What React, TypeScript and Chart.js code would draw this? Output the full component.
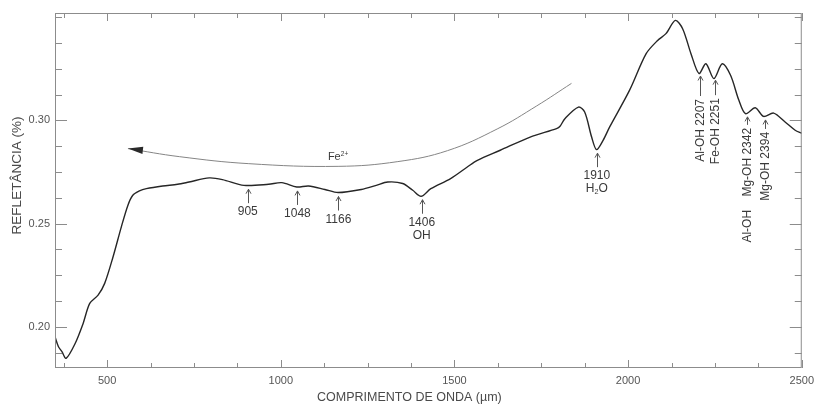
import React, { useEffect, useRef } from "react";
import { Chart, registerables } from "chart.js";

Chart.register(...registerables);

// ---- Data -----------------------------------------------------------------
const WAVELENGTH = [
  350, 360, 370, 382, 408, 431, 450, 474, 493, 517, 541, 560, 574, 593, 613, 660,
  703, 736, 794, 832, 894, 965, 1003, 1046, 1080, 1127, 1165, 1232, 1275, 1308,
  1351, 1380, 1404, 1432, 1489, 1537, 1566, 1632, 1718, 1794, 1804, 1818, 1857,
  1875, 1895, 1909, 1928, 1947, 2004, 2052, 2085, 2109, 2136, 2157, 2181, 2204,
  2224, 2247, 2271, 2295, 2319, 2338, 2366, 2390, 2419, 2452, 2481, 2500,
];
const REFLECTANCE = [
  0.1951, 0.1903, 0.1879, 0.1847, 0.1919, 0.2016, 0.2113, 0.2153, 0.221, 0.2338,
  0.2484, 0.2589, 0.2637, 0.2658, 0.2669, 0.2682, 0.269, 0.2701, 0.2721, 0.2713,
  0.2685, 0.269, 0.2698, 0.2677, 0.2682, 0.2665, 0.265, 0.2665, 0.2685, 0.2701,
  0.2694, 0.2661, 0.2632, 0.2669, 0.2718, 0.2774, 0.2806, 0.2855, 0.2919, 0.296,
  0.2971, 0.3008, 0.3064, 0.304, 0.2919, 0.2858, 0.2903, 0.2968, 0.3145, 0.3323,
  0.3387, 0.342, 0.3484, 0.3444, 0.3323, 0.3227, 0.3274, 0.3202, 0.3274, 0.3218,
  0.3097, 0.3032, 0.3061, 0.3019, 0.3035, 0.2992, 0.2952, 0.2937,
];

// Fe2+ trend arc (arrow tip is the first point)
const FE_ARC_WAVELENGTH = [560, 708, 908, 1165, 1337, 1480, 1623, 1737, 1837];
const FE_ARC_REFLECTANCE = [0.2863, 0.2824, 0.2790, 0.2777, 0.2800, 0.2853, 0.2958, 0.3070, 0.3179];
const FE_LABEL = "Fe²⁺";
const FE_LABEL_WAVELENGTH = 1165;

const X_MIN = 350;
const X_MAX = 2500;
const Y_MIN = 0.18;
const Y_MAX = 0.352;
const X_TICKS = [500, 1000, 1500, 2000, 2500];
const Y_TICKS = [0.2, 0.25, 0.3];
const X_MINOR_STEP = 125;
const Y_MINOR_STEP = 0.0125;

const BAND_WAVELENGTHS = [905, 1048, 1166, 1406, 1910];
const BAND_LABELS = [["905"], ["1048"], ["1166"], ["1406", "OH"], ["1910", "H₂O"]];

const ROT_WAVELENGTHS = [2207, 2251, 2342, 2394];
const ROT_LABELS = ["Al-OH 2207", "Fe-OH 2251", "Al-OH    Mg-OH 2342", "Mg-OH 2394"];
const ROT_STEMS = [20, 15, 8, 9];

const X_TITLE = "COMPRIMENTO DE ONDA (µm)";
const Y_TITLE = "REFLETÂNCIA (%)";

// ---- Helpers --------------------------------------------------------------
const FONT = '"Liberation Sans", Arial, Helvetica, sans-serif';
const SUB = "₀₁₂₃₄₅₆₇₈₉";
const SUP = "⁰¹²³⁴⁵⁶⁷⁸⁹⁺";
const SUP_PLAIN = "0123456789+";

function interp(xs: number[], ys: number[], w: number) {
  if (w <= xs[0]) return ys[0];
  for (let i = 1; i < xs.length; i++) {
    if (w <= xs[i]) {
      const t = (w - xs[i - 1]) / (xs[i] - xs[i - 1]);
      return ys[i - 1] + t * (ys[i] - ys[i - 1]);
    }
  }
  return ys[ys.length - 1];
}

type Run = { t: string; k: "n" | "sub" | "sup" };
function parseRich(text: string): Run[] {
  const runs: Run[] = [];
  for (const ch of text) {
    let k: Run["k"] = "n";
    let c = ch;
    const si = SUB.indexOf(ch);
    const pi = SUP.indexOf(ch);
    if (si >= 0) {
      k = "sub";
      c = String(si);
    } else if (pi >= 0) {
      k = "sup";
      c = SUP_PLAIN[pi];
    }
    const last = runs[runs.length - 1];
    if (last && last.k === k) last.t += c;
    else runs.push({ t: c, k });
  }
  return runs;
}

function drawRich(ctx: CanvasRenderingContext2D, text: string, x: number, y: number, size: number) {
  const runs = parseRich(text);
  const small = size * 0.6;
  const widths = runs.map((r) => {
    ctx.font = `${r.k === "n" ? size : small}px ${FONT}`;
    return ctx.measureText(r.t).width;
  });
  const total = widths.reduce((a, b) => a + b, 0);
  let cx = x - total / 2;
  ctx.textAlign = "left";
  ctx.textBaseline = "middle";
  runs.forEach((r, i) => {
    ctx.font = `${r.k === "n" ? size : small}px ${FONT}`;
    const dy = r.k === "sub" ? size * 0.28 : r.k === "sup" ? -size * 0.32 : 0;
    ctx.fillText(r.t, cx, y + dy);
    cx += widths[i];
  });
}

function drawUpArrow(ctx: CanvasRenderingContext2D, px: number, tip: number, bottom: number) {
  const x = Math.round(px) + 0.5;
  ctx.beginPath();
  ctx.moveTo(x, tip);
  ctx.lineTo(x, bottom);
  ctx.moveTo(x - 2.5, tip + 4.5);
  ctx.lineTo(x, tip);
  ctx.lineTo(x + 2.5, tip + 4.5);
  ctx.stroke();
}

const decorPlugin = {
  id: "decor",
  afterDatasetsDraw(chart: any) {
    const { ctx, chartArea: a } = chart;
    const xs = chart.scales.x;
    const ys = chart.scales.y;
    ctx.save();

    // frame
    ctx.strokeStyle = "#8c8c8c";
    ctx.lineWidth = 1;
    ctx.strokeRect(a.left + 0.5, a.top + 0.5, a.right - a.left - 1, a.bottom - a.top - 1);

    // inside ticks, x
    ctx.beginPath();
    for (let k = Math.ceil(X_MIN / X_MINOR_STEP); k * X_MINOR_STEP <= X_MAX; k++) {
      const v = k * X_MINOR_STEP;
      const major = X_TICKS.includes(v);
      const len = major ? 8 : 5;
      const p = Math.round(xs.getPixelForValue(v)) + 0.5;
      ctx.moveTo(p, a.bottom);
      ctx.lineTo(p, a.bottom - len);
      ctx.moveTo(p, a.top);
      ctx.lineTo(p, a.top + len);
    }
    // inside ticks, y
    for (let k = Math.ceil(Y_MIN / Y_MINOR_STEP - 1e-9); k * Y_MINOR_STEP <= Y_MAX + 1e-9; k++) {
      const v = k * Y_MINOR_STEP;
      const major = Y_TICKS.some((t) => Math.abs(t - v) < 1e-6);
      const len = major ? 12 : 7;
      const p = Math.round(ys.getPixelForValue(v)) + 0.5;
      ctx.moveTo(a.left, p);
      ctx.lineTo(a.left + len, p);
      ctx.moveTo(a.right, p);
      ctx.lineTo(a.right - len, p);
    }
    ctx.stroke();

    // axis titles
    ctx.fillStyle = "#4a4a4a";
    ctx.textAlign = "center";
    ctx.textBaseline = "middle";
    ctx.font = `12.5px ${FONT}`;
    ctx.fillText(X_TITLE, (a.left + a.right) / 2 - 19, a.bottom + 30);
    ctx.save();
    ctx.translate(a.left - 37.5, (a.top + a.bottom) / 2 - 15);
    ctx.rotate(-Math.PI / 2);
    ctx.font = `13.5px ${FONT}`;
    ctx.fillText(Y_TITLE, 0, 0);
    ctx.restore();

    // band annotations (horizontal labels)
    ctx.strokeStyle = "#555";
    ctx.fillStyle = "#3a3a3a";
    ctx.lineWidth = 1;
    BAND_WAVELENGTHS.forEach((w, i) => {
      const px = xs.getPixelForValue(w);
      const tip = ys.getPixelForValue(interp(WAVELENGTH, REFLECTANCE, w)) + 4;
      const bottom = tip + 14;
      drawUpArrow(ctx, px, tip, bottom);
      BAND_LABELS[i].forEach((line, j) => drawRich(ctx, line, px, bottom + 9 + j * 12.6, 12));
    });

    // rotated annotations
    ROT_WAVELENGTHS.forEach((w, i) => {
      const px = xs.getPixelForValue(w);
      const tip = ys.getPixelForValue(interp(WAVELENGTH, REFLECTANCE, w)) + 4;
      const bottom = tip + ROT_STEMS[i];
      drawUpArrow(ctx, px, tip, bottom);
      ctx.save();
      ctx.translate(Math.round(px) + 0.5, bottom + 3);
      ctx.rotate(-Math.PI / 2);
      ctx.textAlign = "right";
      ctx.textBaseline = "middle";
      ctx.font = `12px ${FONT}`;
      ctx.fillText(ROT_LABELS[i], 0, 0);
      ctx.restore();
    });

    // Fe2+ arrow head
    const tx = xs.getPixelForValue(FE_ARC_WAVELENGTH[0]);
    const ty = ys.getPixelForValue(FE_ARC_REFLECTANCE[0]);
    const bx = xs.getPixelForValue(FE_ARC_WAVELENGTH[1]);
    const by = ys.getPixelForValue(FE_ARC_REFLECTANCE[1]);
    const ang = Math.atan2(ty - by, tx - bx) - 0.04;
    const L = 15;
    const H = 3.6;
    const cx = tx - L * Math.cos(ang);
    const cy = ty - L * Math.sin(ang);
    ctx.fillStyle = "#2a2a2a";
    ctx.beginPath();
    ctx.moveTo(tx, ty);
    ctx.lineTo(cx + H * Math.sin(ang), cy - H * Math.cos(ang));
    ctx.lineTo(cx - H * Math.sin(ang), cy + H * Math.cos(ang));
    ctx.closePath();
    ctx.fill();

    // Fe2+ label
    ctx.fillStyle = "#3a3a3a";
    const lx = xs.getPixelForValue(FE_LABEL_WAVELENGTH);
    const ly = ys.getPixelForValue(interp(FE_ARC_WAVELENGTH, FE_ARC_REFLECTANCE, FE_LABEL_WAVELENGTH)) - 9;
    drawRich(ctx, FE_LABEL, lx, ly, 11);

    ctx.restore();
  },
};

export default function App() {
  const ref = useRef<HTMLCanvasElement>(null);

  useEffect(() => {
    document.body.style.margin = "0";
    const canvas = ref.current;
    if (!canvas) return;
    const chart = new Chart(canvas, {
      type: "line",
      data: {
        datasets: [
          {
            data: FE_ARC_WAVELENGTH.map((w, i) => ({ x: w, y: FE_ARC_REFLECTANCE[i] })),
            borderColor: "#858585",
            borderWidth: 1,
            pointRadius: 0,
            tension: 0.4,
            fill: false,
          },
          {
            data: WAVELENGTH.map((w, i) => ({ x: w, y: REFLECTANCE[i] })),
            borderColor: "#262626",
            borderWidth: 1.4,
            pointRadius: 0,
            tension: 0.3,
            fill: false,
          },
        ],
      },
      options: {
        responsive: false,
        animation: false,
        devicePixelRatio: 1,
        layout: { padding: { top: 13, right: 13, left: 0, bottom: 0 } },
        plugins: { legend: { display: false }, tooltip: { enabled: false } },
        scales: {
          x: {
            type: "linear",
            min: X_MIN,
            max: X_MAX,
            grid: { display: false, drawTicks: false },
            border: { display: false },
            afterBuildTicks: (s: any) => {
              s.ticks = X_TICKS.map((v) => ({ value: v }));
            },
            afterFit: (s: any) => {
              s.height = 40;
            },
            ticks: {
              color: "#555",
              padding: 6,
              maxRotation: 0,
              autoSkip: false,
              font: { family: FONT, size: 11 },
              callback: (v: any) => String(v),
            },
          },
          y: {
            type: "linear",
            min: Y_MIN,
            max: Y_MAX,
            grid: { display: false, drawTicks: false },
            border: { display: false },
            afterBuildTicks: (s: any) => {
              s.ticks = Y_TICKS.map((v) => ({ value: v }));
            },
            afterFit: (s: any) => {
              s.width = 55;
            },
            ticks: {
              color: "#555",
              padding: 5,
              autoSkip: false,
              font: { family: FONT, size: 11 },
              callback: (v: any) => Number(v).toFixed(2),
            },
          },
        },
      },
      plugins: [decorPlugin],
    } as any);
    return () => chart.destroy();
  }, []);

  return (
    <div style={{ width: 820, height: 408 }}>
      <canvas ref={ref} width={820} height={408} style={{ display: "block" }} />
    </div>
  );
}
